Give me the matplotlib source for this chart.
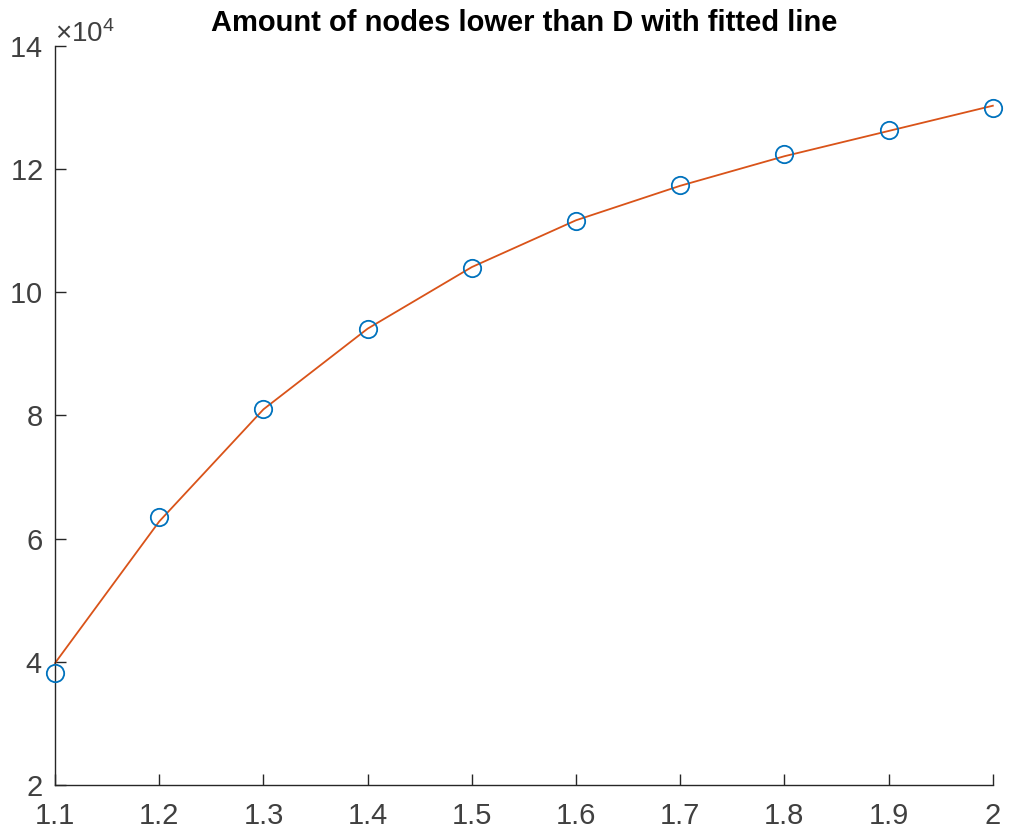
import matplotlib.pyplot as plt
from matplotlib.ticker import FuncFormatter, MultipleLocator

plt.rcParams['font.family'] = ['Liberation Sans', 'DejaVu Sans']
plt.rcParams['mathtext.fontset'] = 'custom'
plt.rcParams['mathtext.rm'] = 'Liberation Sans'

# measured values and the fitted curve evaluated at the same D
d_values = [1.1, 1.2, 1.3, 1.4, 1.5, 1.6, 1.7, 1.8, 1.9, 2.0]
node_counts = [38200, 63500, 81000, 94000, 103900, 111500, 117500, 122400, 126400, 129900]
fitted = [39800, 62800, 81000, 94100, 104100, 111700, 117300, 122100, 126200, 130300]

AXIS_COLOR = "#262626"
LABEL_COLOR = "#404040"

fig = plt.figure(figsize=(10.1, 8.36), dpi=100)
ax = fig.add_axes([0.0545, 0.061, 0.9285, 0.884])

ax.plot(d_values, node_counts, linestyle="none", marker="o", markersize=12.5,
        markerfacecolor="none", markeredgecolor="#0072BD", markeredgewidth=1.3,
        clip_on=False, zorder=3)
ax.plot(d_values, fitted, color="#D95319", linewidth=1.3, clip_on=False, zorder=2)

ax.set_xlim(1.1, 2.0)
ax.set_ylim(20000, 140000)
ax.xaxis.set_major_locator(MultipleLocator(0.1))
ax.xaxis.set_major_formatter(FuncFormatter(lambda v, p: "%g" % round(v, 2)))
ax.yaxis.set_major_locator(MultipleLocator(20000))
ax.ticklabel_format(axis="y", style="sci", scilimits=(4, 4), useMathText=True)

ax.spines["top"].set_visible(False)
ax.spines["right"].set_visible(False)
for side in ("left", "bottom"):
    ax.spines[side].set_color(AXIS_COLOR)
    ax.spines[side].set_linewidth(1.0)
ax.tick_params(direction="in", length=8, width=1.0, color=AXIS_COLOR,
               labelcolor=LABEL_COLOR, labelsize=21)
ax.tick_params(axis="x", pad=12)
ax.tick_params(axis="y", pad=9)
offset = ax.yaxis.get_offset_text()
offset.set_fontsize(20)
offset.set_color(LABEL_COLOR)

ax.set_title("Amount of nodes lower than D with fitted line",
             fontsize=21, fontweight="bold", pad=11)

fig.savefig("out.png", dpi=100)
